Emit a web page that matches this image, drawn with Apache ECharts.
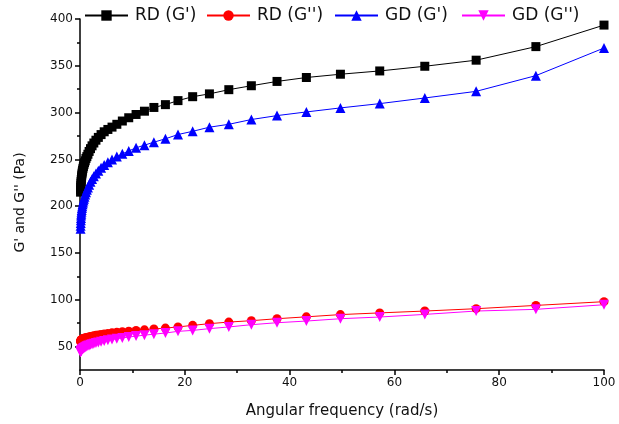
<!DOCTYPE html>
<html>
<head>
<meta charset="utf-8">
<script src="https://cdn.jsdelivr.net/npm/echarts@6/dist/echarts.min.js"></script>
<style>html,body{margin:0;padding:0;background:#fff;}#c{width:619px;height:424px;}</style>
</head>
<body>
<div id="c"></div>
<script>
// Angular frequency (rad/s)
const freq = [0.106, 0.122, 0.141, 0.162, 0.186, 0.214, 0.246, 0.283, 0.325, 0.374, 0.43, 0.494, 0.568, 0.654, 0.752, 0.864, 0.994, 1.14, 1.31, 1.51, 1.74, 2.0, 2.3, 2.64, 3.04, 3.5, 4.02, 4.62, 5.32, 6.11, 7.03, 8.08, 9.3, 10.7, 12.3, 14.1, 16.3, 18.7, 21.5, 24.7, 28.4, 32.7, 37.6, 43.2, 49.7, 57.2, 65.8, 75.6, 87, 100];
const rdGp  = [215, 217.5, 220, 222, 224.5, 226.5, 228.5, 230.5, 232.5, 234.5, 236.5, 238.5, 240.5, 242.5, 244.5, 246.5, 248.5, 251, 253, 255.5, 258.5, 261.5, 264.5, 267.5, 270.5, 273.5, 276.5, 279.5, 282, 284.5, 287.5, 291, 294.5, 298, 301.5, 305.5, 308.5, 312.8, 317, 320, 324.5, 328.7, 333.3, 337.5, 341, 344.5, 349.5, 356, 370.5, 393.5];
const rdGpp = [55.5, 55.8, 56.1, 56.4, 56.7, 57, 57.2, 57.4, 57.6, 57.8, 58, 58.2, 58.4, 58.6, 58.8, 59, 59.2, 59.4, 59.7, 60, 60.3, 60.7, 61.1, 61.5, 62, 62.5, 63, 63.5, 64.1, 64.7, 65.3, 65.9, 66.5, 67.2, 67.9, 68.8, 69.8, 71, 72.7, 74.5, 76.2, 77.7, 79.8, 81.8, 84.2, 86, 88, 90.5, 94, 98];
const gdGp  = [176, 179, 182, 185, 187.5, 190, 192, 194, 196, 198, 200, 202, 204, 206, 208, 210, 212.5, 215, 217.5, 220, 223, 226, 229, 232, 235, 238, 241, 244, 247, 250, 253, 256, 259, 262.4, 265.2, 268.4, 272, 276.6, 280, 284.4, 287.5, 292.6, 296.8, 300.7, 305, 309.6, 315.6, 322.7, 339.5, 369];
const gdGpp = [44, 44.2, 44.5, 44.8, 45.1, 45.4, 45.7, 46, 46.3, 46.6, 47, 47.3, 47.7, 48.1, 48.5, 48.9, 49.3, 49.8, 50.3, 50.8, 51.3, 51.9, 52.5, 53.1, 53.8, 54.5, 55.2, 56, 56.8, 57.6, 58.4, 59.3, 60.2, 61.2, 62.2, 63.3, 64.5, 66.3, 67.3, 69.2, 71, 73.4, 75.5, 77.3, 79.8, 81.6, 84.4, 88, 89.8, 94.7];
const seriesNames = ["RD (G')", "RD (G'')", "GD (G')", "GD (G'')"];
const yMajorTicks = [50, 100, 150, 200, 250, 300, 350, 400];
const yMinorTicks = [75, 125, 175, 225, 275, 325, 375];

const pairs = ys => freq.map((x, i) => [x, ys[i]]);
const font = 'DejaVu Sans';
const downTri = 'path://M0,0 L10,0 L5,9 Z';

const chart = echarts.init(document.getElementById('c'), null, {renderer: 'canvas'});
const legendLefts = [84, 206, 334, 461];
const legendCfg = seriesNames.map((n, i) => ({
  data: [n], left: legendLefts[i], top: 7, padding: 0,
  itemWidth: 43, itemHeight: 13, itemGap: 0,
  textStyle: {fontFamily: font, fontSize: 17, color: '#111', padding: [0, 0, 0, 2]}
}));

const mk = (name, data, color, symbol, size) => ({
  name, type: 'line', data, symbol, symbolSize: size, showSymbol: true,
  lineStyle: {color, width: 1}, itemStyle: {color}, emphasis: {disabled: true}
});

chart.setOption({
  animation: false,
  legend: legendCfg,
  grid: {left: 80, right: 15, top: 19, bottom: 52, containLabel: false},
  xAxis: {
    type: 'value', min: 0, max: 100, interval: 20,
    name: 'Angular frequency (rad/s)', nameLocation: 'middle', nameGap: 34,
    nameTextStyle: {fontFamily: font, fontSize: 15, color: '#111'},
    axisLine: {show: true, lineStyle: {color: '#000', width: 1.5}},
    axisTick: {show: true, inside: false, length: 5, lineStyle: {color: '#000', width: 1.5}},
    minorTick: {show: true, splitNumber: 2, length: 3, lineStyle: {color: '#000', width: 1.5}},
    axisLabel: {fontFamily: font, fontSize: 12, color: '#111', margin: 7},
    splitLine: {show: false}
  },
  yAxis: [{
    type: 'value', min: 25, max: 400, interval: 25,
    name: "G' and G'' (Pa)", nameLocation: 'middle', nameGap: 53, nameRotate: 90,
    nameTextStyle: {fontFamily: font, fontSize: 14, color: '#111', padding: [0, 16, 0, 0]},
    axisLine: {show: true, lineStyle: {color: '#000', width: 1.5}},
    axisTick: {show: true, inside: false, length: 5, customValues: yMajorTicks, lineStyle: {color: '#000', width: 1.5}},
    axisLabel: {fontFamily: font, fontSize: 12, color: '#111', margin: 7, customValues: yMajorTicks},
    splitLine: {show: false}
  }, {
    type: 'value', min: 25, max: 400, interval: 25, position: 'left',
    axisLine: {show: false},
    axisTick: {show: true, inside: false, length: 3, customValues: yMinorTicks, lineStyle: {color: '#000', width: 1.5}},
    axisLabel: {show: false},
    splitLine: {show: false}
  }],
  series: [
    mk(seriesNames[0], pairs(rdGp), '#000000', 'rect', 9),
    mk(seriesNames[1], pairs(rdGpp), '#ff0000', 'circle', 9),
    mk(seriesNames[2], pairs(gdGp), '#0000ff', 'triangle', 10),
    mk(seriesNames[3], pairs(gdGpp), '#ff00ff', downTri, 10)
  ]
});
</script>
</body>
</html>
